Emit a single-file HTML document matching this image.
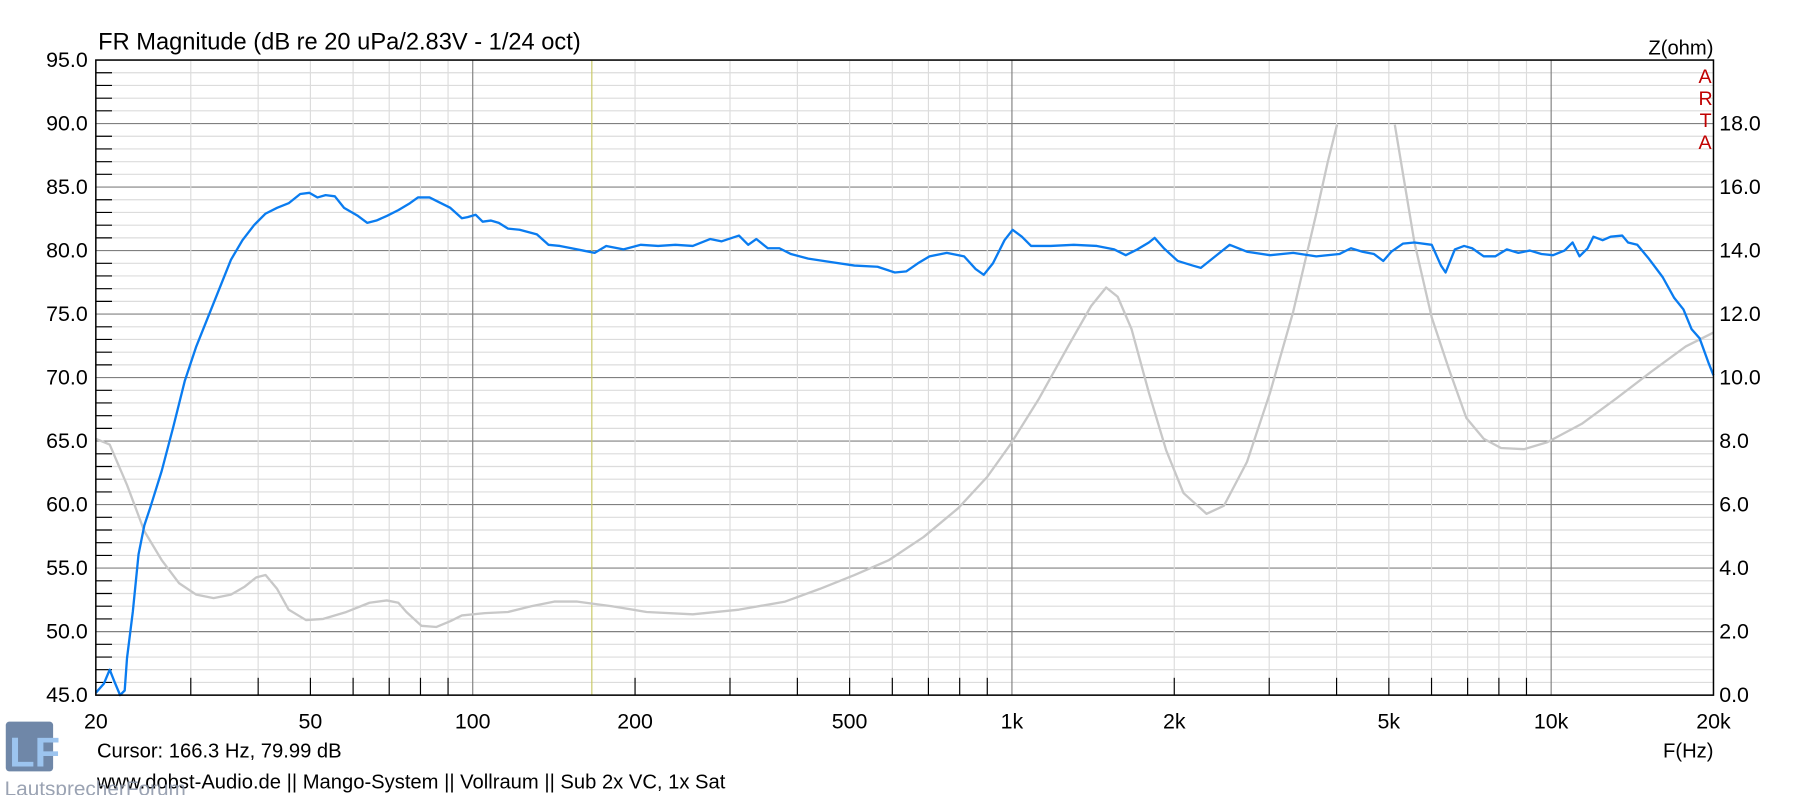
<!DOCTYPE html>
<html><head><meta charset="utf-8"><style>
html,body{margin:0;padding:0;background:#fff;}
svg{display:block;}
text{font-family:"Liberation Sans",Arial,sans-serif;fill:#000;}
</style></head><body>
<svg width="1807" height="795" viewBox="0 0 1565 688.5" preserveAspectRatio="none" xmlns="http://www.w3.org/2000/svg">
<rect width="1565" height="688.5" fill="#fff"/>
<g id="grid"></g>
<text x="85" y="43" font-size="20.5">FR Magnitude (dB re 20 uPa/2.83V - 1/24 oct)</text>
<text x="1484" y="47" font-size="17.5" text-anchor="end">Z(ohm)</text>
<g font-size="17">
<text x="1471" y="72" style="fill:#c00000">A</text><text x="1471" y="91" style="fill:#c00000">R</text><text x="1472" y="110" style="fill:#c00000">T</text><text x="1471" y="129" style="fill:#c00000">A</text></g>
<polyline fill="none" stroke="#c8c8c8" stroke-width="2" stroke-linejoin="round" points="83,380 95,385 110,420 125,460 140,485 155,505 170,515 185,518 200,515 212,508 222,500 230,498 240,510 250,528 265,537 280,536 300,530 320,522 335,520 345,522 352,530 365,542 378,543 390,538 400,533 420,531 440,530 460,525 480,521 500,521 530,525 560,530 600,532 640,528 680,521 710,510 740,498 770,485 800,465 830,440 855,413 875,385 900,345 925,300 945,265 958,249 968,257 980,285 995,340 1010,390 1025,427 1045,445 1060,438 1080,400 1100,340 1120,270 1140,185 1150,140 1158,108"/>
<polyline fill="none" stroke="#c8c8c8" stroke-width="2" stroke-linejoin="round" points="1208,108 1215,150 1225,210 1240,275 1255,320 1270,362 1285,380 1300,388 1320,389 1340,383 1370,367 1400,345 1430,322 1460,300 1484,288"/>
<polyline fill="none" stroke="#0a7cf0" stroke-width="2" stroke-linejoin="round" points="83,600 90,592 95,580 99,590 104,602 108,598 110,570 115,530 120,480 125,455 130,440 140,408 150,370 160,330 170,300 180,275 190,250 200,225 210,208 220,195 230,185 240,180 250,176 260,168 268,167 275,171 282,169 290,170 298,180 310,187 318,193 326,191 335,187 345,182 355,176 362,171 372,171 380,175 390,180 400,189 405,188 412,186 418,192 425,191 432,193 440,198 450,199 465,203 475,212 485,213 495,215 505,217 515,219 525,213 540,216 555,212 570,213 585,212 600,213 615,207 625,209 640,204 648,212 655,207 665,215 675,215 685,220 700,224 720,227 740,230 760,231 775,236 785,235 795,228 805,222 820,219 835,222 845,233 852,238 860,228 870,208 877,199 885,205 893,213 910,213 930,212 950,213 965,216 975,221 985,216 995,210 1000,206 1008,215 1020,226 1033,230 1040,232 1050,224 1065,212 1080,218 1100,221 1120,219 1140,222 1160,220 1170,215 1180,218 1190,220 1198,226 1205,218 1215,211 1225,210 1240,212 1248,230 1252,236 1260,216 1268,213 1275,215 1285,222 1295,222 1305,216 1315,219 1325,217 1335,220 1345,221 1355,217 1362,210 1368,222 1375,215 1380,205 1388,208 1395,205 1405,204 1410,210 1418,212 1428,224 1440,240 1450,258 1458,268 1465,285 1472,293 1480,315 1484,325"/>
<rect x="83" y="52" width="1401" height="550" fill="none" stroke="#000" stroke-width="1.3"/>
<g id="labels" font-size="18.5"></g>
<text x="84" y="656" font-size="17.5">Cursor: 166.3 Hz, 79.99 dB</text>
<text x="1484" y="656" font-size="17.5" text-anchor="end">F(Hz)</text>
<rect x="5" y="625" width="41" height="43" rx="3" fill="#6f87a8"/>
<text x="8" y="664" font-size="36" style="fill:#9cc4ef" font-weight="bold">LF</text>
<text x="84" y="683" font-size="17.5">www.dobst-Audio.de  ||  Mango-System  ||  Vollraum || Sub 2x VC, 1x Sat</text>
<text x="4" y="689" font-size="18" style="fill:#8a94a6" opacity="0.85">LautsprecherForum</text>
<script>
var ns="http://www.w3.org/2000/svg",g=document.getElementById('grid'),L=document.getElementById('labels');
function el(p,t,a,txt){var e=document.createElementNS(ns,t);for(var k in a)e.setAttribute(k,a[k]);if(txt)e.textContent=txt;p.appendChild(e);return e;}
function X(f){return 83+467*Math.log10(f/20);}
for(var d=45;d<=95;d++){var y=602-(d-45)*11;var maj=(d%5==0);
 el(g,'line',{x1:83,x2:1484,y1:y,y2:y,stroke:maj?'#808080':'#dcdcdc','stroke-width':1});
 if(!maj)el(g,'line',{x1:83,x2:97,y1:y,y2:y,stroke:'#000','stroke-width':1});
 else el(L,'text',{x:76,y:y+6,'text-anchor':'end'},d.toFixed(1));}
for(var z=0;z<=18;z+=2){el(L,'text',{x:1489,y:602-z*27.5+6},z.toFixed(1));}
var fs=[20,30,40,50,60,70,80,90,100,200,300,400,500,600,700,800,900,1000,2000,3000,4000,5000,6000,7000,8000,9000,10000,20000];
fs.forEach(function(f){var x=X(f);var dec=(f==100||f==1000||f==10000);
 el(g,'line',{x1:x,x2:x,y1:52,y2:602,stroke:dec?'#808080':'#dcdcdc','stroke-width':1});
 if(!dec&&f!=20&&f!=20000)el(g,'line',{x1:x,x2:x,y1:587,y2:602,stroke:'#000','stroke-width':1});});
el(g,'line',{x1:X(166.3),x2:X(166.3),y1:52,y2:602,stroke:'#c8c864','stroke-width':1});
[[20,'20'],[50,'50'],[100,'100'],[200,'200'],[500,'500'],[1000,'1k'],[2000,'2k'],[5000,'5k'],[10000,'10k'],[20000,'20k']].forEach(function(a){el(L,'text',{x:X(a[0]),y:631,'text-anchor':'middle'},a[1]);});
</script>
</svg>
</body></html>
